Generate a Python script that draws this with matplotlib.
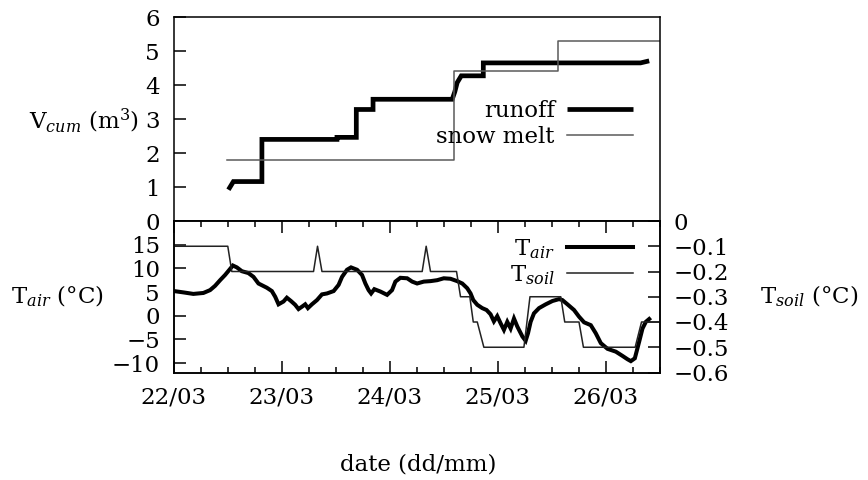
import matplotlib
matplotlib.use("Agg")
import matplotlib.pyplot as plt
from matplotlib.ticker import FixedLocator, MultipleLocator, FuncFormatter

plt.rcParams["font.family"] = ["DejaVu Serif"]
plt.rcParams["mathtext.fontset"] = "dejavuserif"
plt.rcParams["font.size"] = 16.5
plt.rcParams["axes.linewidth"] = 1.1

# time axis: days since 22/03 00:00
date_ticks = [0, 1, 2, 3, 4]
date_labels = ["22/03", "23/03", "24/03", "25/03", "26/03"]

# cumulative runoff (m3)
runoff_day = [0.504, 0.550, 0.814, 0.814, 1.509, 1.509, 1.688, 1.688, 1.843, 1.843,
              2.576, 2.600, 2.622, 2.660, 2.864, 2.864, 4.320, 4.400]
runoff_m3 = [0.92, 1.16, 1.16, 2.40, 2.40, 2.46, 2.46, 3.28, 3.28, 3.58,
             3.58, 3.80, 4.07, 4.27, 4.27, 4.65, 4.65, 4.71]

# cumulative snow melt (m3), stepwise
snow_day = [0.494, 2.591, 3.559, 4.5]
snow_m3 = [1.80, 4.40, 5.28, 5.28]

# air temperature (deg C)
air_day = [0.000, 0.093, 0.179, 0.272, 0.334, 0.380, 0.427, 0.473, 0.513, 0.545,
           0.582, 0.628, 0.689, 0.736, 0.782, 0.860, 0.906, 0.937, 0.968, 1.014,
           1.045, 1.083, 1.122, 1.153, 1.185, 1.215, 1.240, 1.277, 1.324, 1.370,
           1.417, 1.478, 1.524, 1.556, 1.602, 1.639, 1.695, 1.741, 1.772, 1.802,
           1.825, 1.855, 1.911, 1.973, 2.019, 2.050, 2.096, 2.159, 2.205, 2.251,
           2.313, 2.375, 2.437, 2.498, 2.560, 2.622, 2.669, 2.715, 2.746, 2.771,
           2.808, 2.854, 2.894, 2.931, 2.962, 2.993, 3.024, 3.055, 3.086, 3.117,
           3.148, 3.179, 3.226, 3.256, 3.278, 3.302, 3.333, 3.380, 3.442, 3.504,
           3.565, 3.596, 3.643, 3.704, 3.750, 3.797, 3.859, 3.905, 3.952, 4.014,
           4.091, 4.153, 4.199, 4.230, 4.267, 4.307, 4.338, 4.369, 4.400]
air_temp = [5.2, 4.9, 4.6, 4.8, 5.4, 6.3, 7.5, 8.6, 9.7, 10.6,
            10.2, 9.4, 9.0, 8.2, 6.8, 5.9, 5.2, 4.0, 2.4, 3.0,
            3.8, 3.1, 2.3, 1.4, 1.9, 2.4, 1.6, 2.4, 3.3, 4.5,
            4.7, 5.2, 6.5, 8.2, 9.7, 10.2, 9.7, 8.6, 6.8, 5.4,
            4.7, 5.6, 5.1, 4.4, 5.4, 7.2, 8.0, 7.9, 7.2, 6.8,
            7.2, 7.3, 7.5, 7.9, 7.8, 7.3, 6.8, 5.8, 4.7, 3.3,
            2.3, 1.6, 1.2, 0.3, -1.2, -0.1, -1.6, -3.0, -1.3, -2.7,
            -0.6, -2.3, -4.4, -5.3, -3.7, -1.3, 0.5, 1.6, 2.4, 3.1,
            3.5, 3.3, 2.4, 1.2, -0.2, -1.4, -2.0, -3.7, -5.8, -7.0,
            -7.6, -8.5, -9.2, -9.6, -9.0, -5.5, -2.7, -1.3, -0.7]

# soil temperature (deg C)
soil_day = [0.000, 0.498, 0.535, 1.292, 1.329, 1.370, 2.298, 2.335, 2.375, 2.616,
            2.653, 2.739, 2.771, 2.808, 2.869, 3.240, 3.296, 3.581, 3.618, 3.750,
            3.791, 4.270, 4.329, 4.500]
soil_temp = [-0.1, -0.1, -0.2, -0.2, -0.1, -0.2, -0.2, -0.1, -0.2, -0.2,
             -0.3, -0.3, -0.4, -0.4, -0.5, -0.5, -0.3, -0.3, -0.4, -0.4,
             -0.5, -0.5, -0.4, -0.4]

W, H = 868, 480
fig = plt.figure(figsize=(W / 100, H / 100), dpi=100)

left, right = 174, 660
top1, mid, bot2 = 17, 221, 372.5
ax1 = fig.add_axes([left / W, 1 - mid / H, (right - left) / W, (mid - top1) / H])
ax2 = fig.add_axes([left / W, 1 - bot2 / H, (right - left) / W, (bot2 - mid) / H], sharex=ax1)
ax3 = ax2.twinx()

thick_runoff = 3.4
thick_air = 2.9
thin = 1.1

# top panel: cumulative volumes
l_run, = ax1.plot(runoff_day, runoff_m3, color="black", lw=thick_runoff,
                  solid_joinstyle="miter", solid_capstyle="butt", label="runoff")
l_snow, = ax1.plot(snow_day, snow_m3, color="#5a5a5a", lw=thin,
                   drawstyle="steps-post", label="snow melt")
ax1.set_xlim(0, 4.5)
ax1.set_ylim(0, 6)
ax1.yaxis.set_major_locator(MultipleLocator(1))
ax1.tick_params(axis="y", direction="in", length=8.6, width=1.1, pad=10, right=False)
ax1.tick_params(axis="x", which="both", bottom=False, top=False, labelbottom=False)
ax1.set_ylabel(r"V$_{\mathit{cum}}$ (m$^{3}$)", rotation=0, ha="right", va="center")
ax1.yaxis.set_label_coords(-0.072, 0.49)
ax1.legend(handles=[l_run, l_snow], loc="upper right", bbox_to_anchor=(0.944, 0.595),
           frameon=False, markerfirst=False, handlelength=2.85, handletextpad=0.55,
           labelspacing=0.2, borderpad=0, borderaxespad=0)

# bottom panel: temperatures
l_air, = ax2.plot(air_day, air_temp, color="black", lw=thick_air,
                  solid_joinstyle="miter", label=r"T$_{\mathit{air}}$")
l_soil, = ax3.plot(soil_day, soil_temp, color="#222222", lw=thin,
                   label=r"T$_{\mathit{soil}}$")
ax2.set_ylim(-12, 20)
ax2.set_yticks([15, 10, 5, 0, -5, -10])
ax3.set_ylim(-0.6, 0)
ax3.set_yticks([0, -0.1, -0.2, -0.3, -0.4, -0.5, -0.6])
ax3.yaxis.set_major_formatter(FuncFormatter(
    lambda v, p: "0" if abs(v) < 1e-9 else f"{v:.1f}".replace("-", "\u2212")))

ax2.xaxis.set_major_locator(FixedLocator(date_ticks))
ax2.xaxis.set_minor_locator(MultipleLocator(0.25))
ax2.set_xticklabels(date_labels)
ax2.tick_params(axis="x", which="major", direction="in", length=8.6, width=1.1,
                top=True, bottom=True, pad=10)
ax2.tick_params(axis="x", which="minor", direction="in", length=4.5, width=1.1,
                top=True, bottom=True)
ax2.tick_params(axis="y", direction="in", length=8.6, width=1.1, pad=10, right=False)
ax3.tick_params(axis="y", direction="in", length=9, width=1.1, pad=10)

ax2.set_ylabel(r"T$_{\mathit{air}}$ (°C)", rotation=0, ha="right", va="center")
ax2.yaxis.set_label_coords(-0.144, 0.505)
ax3.set_ylabel(r"T$_{\mathit{soil}}$ (°C)", rotation=0, ha="left", va="center")
ax3.yaxis.set_label_coords(1.206, 0.505)
ax2.set_xlabel("date (dd/mm)", va="center")
ax2.xaxis.set_label_coords(0.502, -0.61)

ax3.legend(handles=[l_air, l_soil], loc="upper right", bbox_to_anchor=(0.944, 0.895),
           frameon=False, markerfirst=False, handlelength=2.85, handletextpad=0.55,
           labelspacing=0.12, borderpad=0, borderaxespad=0)

fig.savefig("out.png", dpi=100)
